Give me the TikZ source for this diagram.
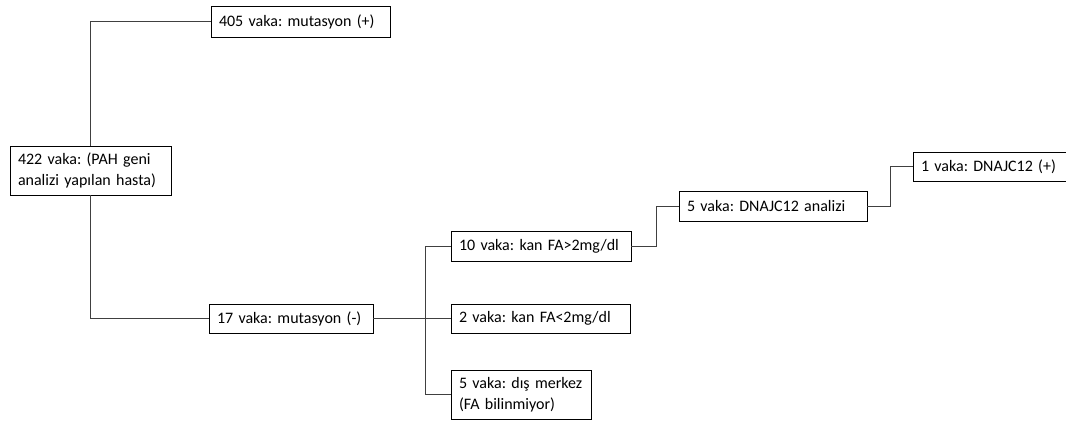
\documentclass[tikz,border=0pt]{standalone}
\usepackage{fontspec}
\setmainfont{Carlito}
\begin{document}
\begin{tikzpicture}[x=1pt,y=1pt,
  box/.style={draw=black, line width=0.9pt, inner xsep=8pt, inner ysep=0pt, anchor=center,
    font=\fontsize{16}{20.5}\selectfont, align=left, execute at begin node=\frenchspacing},
  link/.style={draw=black!75, line width=0.9pt}]
\useasboundingbox (0,0) rectangle (1066,421);
\newcommand{\bx}[6]{\node[box, minimum width=#4pt, minimum height=#5pt, text width={#4pt-16pt}] (#1) at (#2,#3) {#6};}
\bx{b405}{300.5}{399.5}{179}{31}{\mbox{405 vaka: mutasyon (+)}}
\bx{b422}{90.5}{250.5}{161}{49}{\mbox{422 vaka: (PAH geni}\\\mbox{analizi yapılan hasta)}}
\bx{b17}{291}{102.5}{164}{29}{\mbox{17 vaka: mutasyon (-)}}
\bx{b10}{541}{175}{180}{30}{\mbox{10 vaka: kan FA>2mg/dl}}
\bx{b2}{540.5}{102.5}{179}{29}{\mbox{2 vaka: kan FA<2mg/dl}}
\bx{b5d}{521}{26.5}{140}{49}{\mbox{5 vaka: dış merkez}\\\mbox{(FA bilinmiyor)}}
\bx{bDN}{773}{215}{188}{30}{\mbox{5 vaka: DNAJC12 analizi}}
\bx{b1}{989.5}{254.5}{153}{29}{\mbox{1 vaka: DNAJC12 (+)}}
\draw[link] (b422.north) |- (b405.west);
\draw[link] (b422.south) |- (b17.west);
\draw[link] (b17.east) -- (b2.west);
\draw[link] (b10.west) -- ++(-25,0) |- (b5d.west);
\draw[link] (b10.east) -- ++(25,0) |- (bDN.west);
\draw[link] (bDN.east) -- ++(23,0) |- (b1.west);
\end{tikzpicture}
\end{document}
